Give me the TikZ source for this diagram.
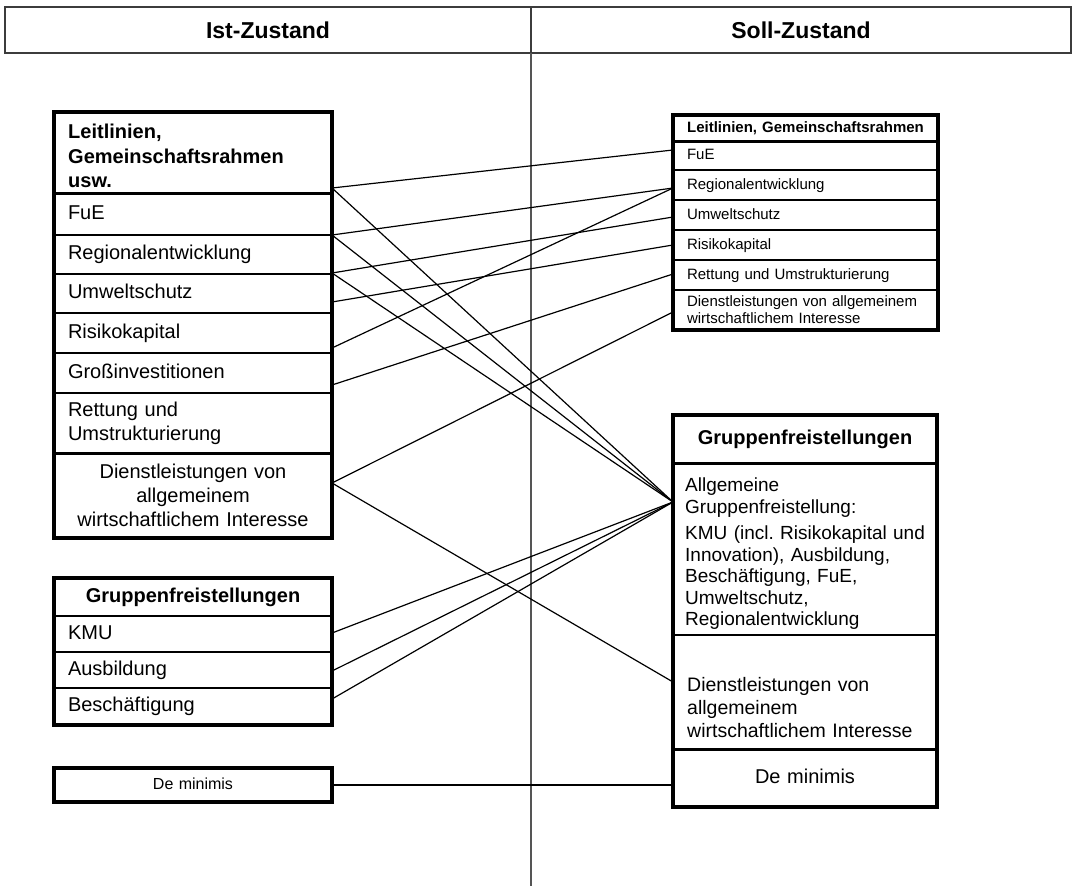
\documentclass[tikz,border=0pt]{standalone}
\usepackage{fontspec}
\setmainfont{Liberation Sans}
\usetikzlibrary{calc}
\definecolor{hdrgray}{RGB}{60,60,60}
\definecolor{divgray}{RGB}{85,85,85}
\tikzset{
  row/.style={draw, line width=1.6pt, anchor=north west, outer sep=0pt, inner xsep=14pt, inner ysep=2pt},
  f20/.style={font=\fontsize{20}{24}\selectfont},
  f20b/.style={font=\bfseries\fontsize{20}{24}\selectfont},
  single20/.style={text height=14.5pt, text depth=4pt},
  single15/.style={text height=11pt, text depth=3pt},
  lrow/.style={row, f20, minimum width=278pt, text width=250pt, align=left},
  lrowc/.style={row, f20, minimum width=278pt, text width=250pt, align=center},
  rrow/.style={row, font=\fontsize{15}{17}\selectfont, minimum width=265pt, text width=237pt, align=left},
  rrowb/.style={rrow, f20, minimum width=264pt, text width=236pt},
  hdr/.style={draw=hdrgray, line width=1.5pt, anchor=north west, outer sep=0pt, minimum height=46pt, font=\bfseries\fontsize{23}{26}\selectfont},
  frame/.style={line width=3.5pt},
  sepline/.style={line width=3pt},
  conn/.style={line width=1.2pt},
  divider/.style={draw=divgray, line width=1.5pt}
}
\begin{document}
\frenchspacing
\begin{tikzpicture}[x=1pt, y=-1pt]
\useasboundingbox (0,0) rectangle (1073,886);
% header
\node[hdr, minimum width=526pt] (ist) at (5,7) {Ist-Zustand};
\node[hdr, minimum width=540pt] (soll) at (531,7) {Soll-Zustand};
\coordinate (divend) at (531,886);
\draw[divider] (ist.south east) -- (divend);

% left group 1
\node[lrow, minimum height=81pt] (leit) at (54,112) {};
\node[anchor=north west, inner xsep=14pt, inner ysep=0pt, text width=250pt, align=left, font=\bfseries\fontsize{20}{24.5}\selectfont] (leittxt) at ([yshift=-12pt]leit.north west) {Leitlinien,\\Gemeinschaftsrahmen\\usw.};
\node[lrow, single20, minimum height=42pt] (fue) at (54,193) {FuE};
\node[lrow, single20, minimum height=39pt] (reg) at (54,235) {Regionalentwicklung};
\node[lrow, single20, minimum height=39pt] (umw) at (54,274) {Umweltschutz};
\node[lrow, single20, minimum height=40pt] (ris) at (54,313) {Risikokapital};
\node[lrow, single20, minimum height=40pt] (gross) at (54,353) {Großinvestitionen};
\node[lrow, minimum height=60pt] (rett) at (54,393) {Rettung und\\Umstrukturierung};
\node[lrowc, minimum height=85pt] (ldienst) at (54,453) {Dienstleistungen von\\allgemeinem\\wirtschaftlichem Interesse};

% left group 2
\node[lrowc, f20b, single20, minimum height=38pt] (lgf) at (54,578) {Gruppenfreistellungen};
\node[lrow, single20, minimum height=36pt] (kmu) at (54,616) {KMU};
\node[lrow, single20, minimum height=36pt] (ausb) at (54,652) {Ausbildung};
\node[lrow, single20, minimum height=37pt] (besch) at (54,688) {Beschäftigung};
\node[lrowc, font=\fontsize{16}{19}\selectfont, text height=11.5pt, text depth=3pt, minimum height=34pt] (ldem) at (54,768) {De minimis};

% right group 1
\node[rrow, font=\bfseries\fontsize{15}{17}\selectfont, single15, inner xsep=7pt, text width=251pt, align=center, minimum height=26pt] (rleit) at (673,115) {Leitlinien, Gemeinschaftsrahmen};
\node[rrow, single15, minimum height=29pt] (rfue) at (673,141) {FuE};
\node[rrow, single15, minimum height=30pt] (rreg) at (673,170) {Regionalentwicklung};
\node[rrow, single15, minimum height=30pt] (rumw) at (673,200) {Umweltschutz};
\node[rrow, single15, minimum height=30pt] (rris) at (673,230) {Risikokapital};
\node[rrow, single15, minimum height=30pt] (rrett) at (673,260) {Rettung und Umstrukturierung};
\node[rrow, minimum height=40pt] (rdienst) at (673,290) {Dienstleistungen von allgemeinem\\wirtschaftlichem Interesse};

% right group 2
\node[rrowb, f20b, single20, align=center, minimum height=48pt] (rgf) at (673,415) {Gruppenfreistellungen};
\node[rrowb, minimum height=172pt] (rallg) at (673,463) {};
\node[anchor=north west, inner xsep=12pt, inner ysep=0pt, text width=240pt, align=left, font=\fontsize{19}{21.5}\selectfont] (rallgtxt) at ([yshift=-15pt]rallg.north west) {Allgemeine\\Gruppenfreistellung:\\[5pt]KMU (incl. Risikokapital und\\Innovation), Ausbildung,\\Beschäftigung, FuE,\\Umweltschutz,\\Regionalentwicklung};
\node[rrowb, minimum height=114pt] (rdie) at (673,635) {};
\node[anchor=south west, inner xsep=14pt, inner ysep=2pt, text width=236pt, align=left, font=\fontsize{19.5}{23}\selectfont] (rdietxt) at ([yshift=9pt]rdie.south west) {Dienstleistungen von\\allgemeinem\\wirtschaftlichem Interesse};
\node[rrowb, single20, align=center, minimum height=58pt] (rdem) at (673,749) {De minimis};

% connectors
\coordinate (conv) at ([yshift=-39pt]rallg.north west);
\draw[conn] ([yshift=5pt]leit.south east) -- ([yshift=5.5pt]rfue.west);
\draw[conn] ([yshift=5pt]leit.south east) -- (conv);
\draw[conn] (fue.south east) -- ([yshift=-3pt]rreg.west);
\draw[conn] (fue.south east) -- (conv);
\draw[conn] ([yshift=1pt]reg.south east) -- ([yshift=-2pt]rumw.west);
\draw[conn] ([yshift=1pt]reg.south east) -- (conv);
\draw[conn] ([yshift=-8.5pt]umw.east) -- (rris.west);
\draw[conn] ([yshift=-15pt]ris.east) -- ([yshift=-3pt]rreg.west);
\draw[conn] ([yshift=-12pt]gross.east) -- ([yshift=1pt]rrett.west);
\draw[conn] ([yshift=12.5pt]ldienst.east) -- ([yshift=-2pt]rdienst.west);
\draw[conn] ([yshift=12.5pt]ldienst.east) -- ([yshift=10pt]rdie.west);
\draw[conn] ([yshift=1pt]kmu.east) -- (conv);
\draw[conn] ([yshift=-1pt]ausb.east) -- (conv);
\draw[conn] ([yshift=7.5pt]besch.east) -- (conv);
\draw[conn] (ldem.east) -- (ldem.east -| rdem.west);

% frames
\draw[frame] (leit.north west) rectangle (ldienst.south east);
\draw[sepline] (leit.south west) -- (leit.south east);
\draw[sepline] (rett.south west) -- (rett.south east);
\draw[frame] (lgf.north west) rectangle (besch.south east);
\draw[frame] (ldem.north west) rectangle (ldem.south east);
\draw[frame] (rleit.north west) rectangle (rdienst.south east);
\draw[sepline] (rleit.south west) -- (rleit.south east);
\draw[frame] (rgf.north west) rectangle (rdem.south east);
\draw[sepline] (rgf.south west) -- (rgf.south east);
\draw[sepline] (rdie.south west) -- (rdie.south east);
\end{tikzpicture}
\end{document}
